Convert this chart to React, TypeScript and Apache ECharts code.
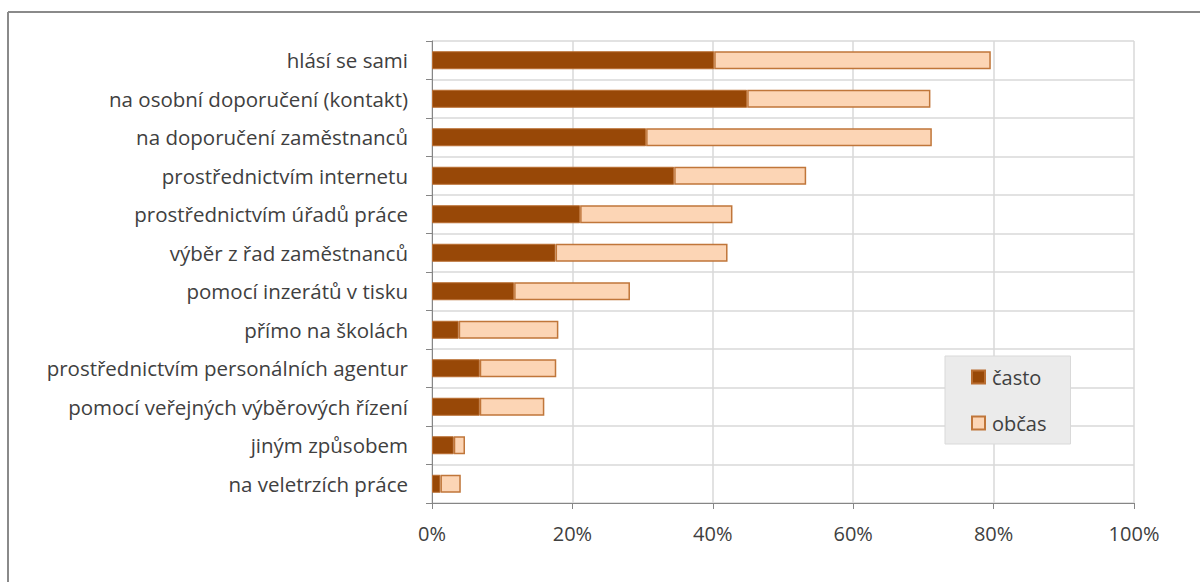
import React, { useEffect, useRef } from "react";
import * as echarts from "echarts";

const categories = [
  "hlásí se sami",
  "na osobní doporučení (kontakt)",
  "na doporučení zaměstnanců",
  "prostřednictvím internetu",
  "prostřednictvím úřadů práce",
  "výběr z řad zaměstnanců",
  "pomocí inzerátů v tisku",
  "přímo na školách",
  "prostřednictvím personálních agentur",
  "pomocí veřejných výběrových řízení",
  "jiným způsobem",
  "na veletrzích práce",
];
const casto = [40.2, 44.9, 30.5, 34.5, 21.1, 17.6, 11.7, 3.8, 6.8, 6.8, 3.1, 1.2];
const obcas = [39.4, 26.1, 40.7, 18.8, 21.7, 24.5, 16.5, 14.2, 10.9, 9.2, 1.6, 2.9];
const seriesNames = ["často", "občas"];
const xTicks = [0, 20, 40, 60, 80, 100];

const FONT = "'Open Sans', 'Noto Sans', sans-serif";

export default function App() {
  const ref = useRef<HTMLDivElement>(null);
  useEffect(() => {
    if (!ref.current) return;
    const chart = echarts.init(ref.current, undefined, { renderer: "svg" });
    chart.setOption({
      animation: false,
      backgroundColor: "#ffffff",
      textStyle: { fontFamily: FONT },
      graphic: [
        { type: "line", shape: { x1: 8, y1: 12, x2: 1200, y2: 12 }, style: { stroke: "#8a8a8a", lineWidth: 2 } },
        { type: "line", shape: { x1: 8, y1: 12, x2: 8, y2: 582 }, style: { stroke: "#8a8a8a", lineWidth: 2 } },
      ],
      grid: { left: 432, top: 41, width: 702, height: 462, containLabel: false },
      legend: {
        orient: "vertical",
        left: 945,
        top: 356,
        padding: [11, 24, 11, 26],
        itemGap: 26,
        itemWidth: 13,
        itemHeight: 13,
        backgroundColor: "#ebebeb",
        borderColor: "#d9d9d9",
        borderWidth: 1,
        textStyle: { fontFamily: FONT, fontSize: 20, color: "#404040", padding: [0, 0, 0, 2] },
        data: seriesNames.map((n) => ({ name: n, icon: "rect" })),
      },
      xAxis: {
        type: "value",
        min: 0,
        max: 100,
        interval: 20,
        axisLine: { show: true, lineStyle: { color: "#868686", width: 1 } },
        axisTick: { show: true, length: 6, lineStyle: { color: "#868686" } },
        splitLine: { show: true, lineStyle: { color: "#d9d9d9", width: 1.5 } },
        axisLabel: {
          formatter: (v: number) => (xTicks.includes(v) ? v + "%" : ""),
          fontFamily: FONT,
          fontSize: 20,
          color: "#404040",
          margin: 20,
        },
      },
      yAxis: {
        type: "category",
        inverse: true,
        data: categories,
        axisLine: { show: true, lineStyle: { color: "#868686", width: 1 } },
        axisTick: { show: true, length: 6, lineStyle: { color: "#868686" } },
        splitLine: { show: true, lineStyle: { color: "#d9d9d9", width: 1.5 } },
        axisLabel: { fontFamily: FONT, fontSize: 20.5, color: "#404040", margin: 24 },
      },
      series: [
        {
          name: seriesNames[0],
          type: "bar",
          stack: "a",
          barWidth: 18,
          data: casto,
          itemStyle: { color: "#984807", borderColor: "#b96d30", borderWidth: 1 },
        },
        {
          name: seriesNames[1],
          type: "bar",
          stack: "a",
          barWidth: 18,
          data: obcas,
          itemStyle: { color: "#fcd5b5", borderColor: "#c0763a", borderWidth: 1.5 },
        },
      ],
    });
    return () => chart.dispose();
  }, []);
  return (
    <div
      ref={ref}
      style={{ position: "absolute", left: 0, top: 0, width: 1200, height: 582 }}
    />
  );
}
